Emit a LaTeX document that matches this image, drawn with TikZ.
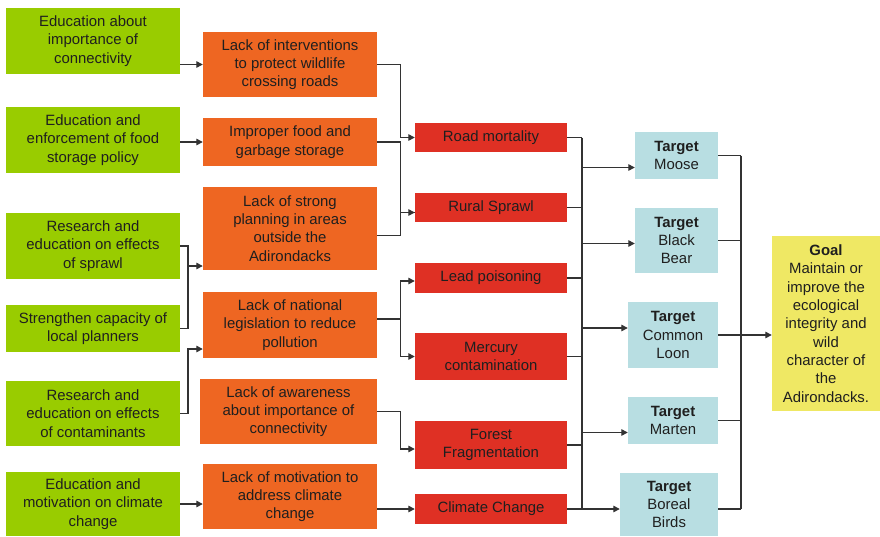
\documentclass[tikz,border=0pt]{standalone}
\usepackage{fontspec}
\setmainfont{Liberation Sans}
\usepackage{tikz}
\usetikzlibrary{arrows.meta,calc}
\definecolor{strat}{HTML}{99CC00}
\definecolor{threat}{HTML}{EE6622}
\definecolor{direct}{HTML}{DF3024}
\definecolor{target}{HTML}{B8DEE2}
\definecolor{goal}{HTML}{EFE864}
\definecolor{wire}{HTML}{333333}

\begin{document}
\begin{tikzpicture}[x=1pt,y=-1pt,
  box/.style={inner sep=0pt,align=center,text=black!88,
    font=\fontsize{14.9}{18.3}\selectfont},
  stratbox/.style={box,fill=strat,minimum width=174pt},
  threatbox/.style={box,fill=threat,minimum width=174pt},
  directbox/.style={box,fill=direct,minimum width=152pt},
  targetbox/.style={box,fill=target},
  goalbox/.style={box,fill=goal,minimum width=108pt,minimum height=175pt},
  link/.style={draw=wire,line width=1.3pt},
  arr/.style={link,-{Triangle[length=6.5pt,width=6.5pt]}}]
  \useasboundingbox (0,0) rectangle (880,536);
  % strategies
  \node[stratbox,minimum height=66pt] (edconn) at (93,41) {Education about\\importance of\\connectivity};
  \node[stratbox,minimum height=66pt] (edfood) at (93,140) {Education and\\enforcement of food\\storage policy};
  \node[stratbox,minimum height=66pt] (edsprawl) at (93,246) {Research and\\education on effects\\of sprawl};
  \node[stratbox,minimum height=47pt] (planners) at (93,328.5) {Strengthen capacity of\\local planners};
  \node[stratbox,minimum height=65pt] (edcont) at (93,413.5) {Research and\\education on effects\\of contaminants};
  \node[stratbox,minimum height=64pt] (edclim) at (93,504) {Education and\\motivation on climate\\change};
  % contributing factors
  \node[threatbox,minimum height=65pt] (interv) at (290,64.5) {Lack of interventions\\to protect wildlife\\crossing roads};
  \node[threatbox,minimum height=48pt] (food) at (290,142) {Improper food and\\garbage storage};
  \node[threatbox,minimum height=83pt] (planning) at (290,228.5) {Lack of strong\\planning in areas\\outside the\\Adirondacks};
  \node[threatbox,minimum height=66pt] (legis) at (290,325) {Lack of national\\legislation to reduce\\pollution};
  \node[threatbox,minimum height=65pt,minimum width=177pt] (aware) at (288.5,411.5) {Lack of awareness\\about importance of\\connectivity};
  \node[threatbox,minimum height=65pt] (motiv) at (290,496.5) {Lack of motivation to\\address climate\\change};
  % direct threats
  \node[directbox,minimum height=29pt] (road) at (491,137.5) {Road mortality};
  \node[directbox,minimum height=29pt] (sprawl) at (491,207.5) {Rural Sprawl};
  \node[directbox,minimum height=30pt] (lead) at (491,278) {Lead poisoning};
  \node[directbox,minimum height=47pt] (mercury) at (491,356.5) {Mercury\\contamination};
  \node[directbox,minimum height=48pt] (forest) at (491,445) {Forest\\Fragmentation};
  \node[directbox,minimum height=30pt] (climate) at (491,509) {Climate Change};
  % targets
  \node[targetbox,minimum width=83pt,minimum height=47pt] (moose) at (676.5,155.5) {\textbf{Target}\\Moose};
  \node[targetbox,minimum width=83pt,minimum height=65pt] (bear) at (676.5,240.5) {\textbf{Target}\\Black\\Bear};
  \node[targetbox,minimum width=90pt,minimum height=66pt] (loon) at (673,335) {\textbf{Target}\\Common\\Loon};
  \node[targetbox,minimum width=90pt,minimum height=47pt] (marten) at (673,420.5) {\textbf{Target}\\Marten};
  \node[targetbox,minimum width=98pt,minimum height=63pt] (birds) at (669,504.5) {\textbf{Target}\\Boreal\\Birds};
  % goal
  \node[goalbox] (adk) at (826,323.5) {\textbf{Goal}\\Maintain or\\improve the\\ecological\\integrity and\\wild\\character of\\the\\Adirondacks.};
  % strategies to factors
  \coordinate (sprawlj) at (188,266);
  \coordinate (contj) at (188,349);
  \draw[arr] (edconn.east |- interv.west) -- (interv.west);
  \draw[arr] (edfood.east |- food.west) -- (food.west);
  \draw[link] (edsprawl.east) -| (sprawlj);
  \draw[link] (planners.east) -| (sprawlj);
  \draw[arr] (sprawlj) -- (sprawlj -| planning.west);
  \draw[arr] (edcont.east) -| (contj) -- (contj -| legis.west);
  \draw[arr] (edclim.east) -- (edclim.east -| motiv.west);
  % factors to threats
  \draw[arr] (interv.east) -- ++(23,0) |- (road.west);
  \draw[arr] (food.east) -- ++(23,0) |- ($(sprawl.west)+(0,5)$);
  \draw[link] ($(planning.east)+(0,7)$) -- ++(23,0) |- ($(sprawl.west)+(0,5)$);
  \draw[link] ($(legis.east)+(0,-6)$) -- ++(23,0) coordinate (legisj);
  \draw[arr] (legisj) |- ($(lead.west)+(0,3)$);
  \draw[arr] (legisj) |- (mercury.west);
  \draw[arr] (aware.east) -- ++(23,0) |- ($(forest.west)+(0,4)$);
  \draw[arr] (motiv.east |- climate.west) -- (climate.west);
  % threats to targets
  \coordinate (tbus) at (582,0);
  \foreach \t in {road,sprawl,lead,mercury,forest,climate}
    \draw[link] (\t.east) -- (\t.east -| tbus);
  \draw[link] (road.east -| tbus) -- (climate.east -| tbus);
  \draw[arr] ($(moose.west -| tbus)+(0,12)$) -- ($(moose.west)+(0,12)$);
  \draw[arr] ($(bear.west -| tbus)+(0,3)$) -- ($(bear.west)+(0,3)$);
  \draw[arr] ($(loon.west -| tbus)+(0,-7)$) -- ($(loon.west)+(0,-7)$);
  \draw[arr] ($(marten.west -| tbus)+(0,12)$) -- ($(marten.west)+(0,12)$);
  \draw[arr] (climate.east) -- (climate.east -| birds.west);
  % targets to goal
  \coordinate (gbus) at (741,0);
  \foreach \t in {moose,bear,loon,marten}
    \draw[link] (\t.east) -- (\t.east -| gbus);
  \draw[link] (birds.east |- climate.east) -- (climate.east -| gbus);
  \draw[link] (moose.east -| gbus) -- (climate.east -| gbus);
  \draw[arr] (loon.east) -- (loon.east -| adk.west);
\end{tikzpicture}
\end{document}
